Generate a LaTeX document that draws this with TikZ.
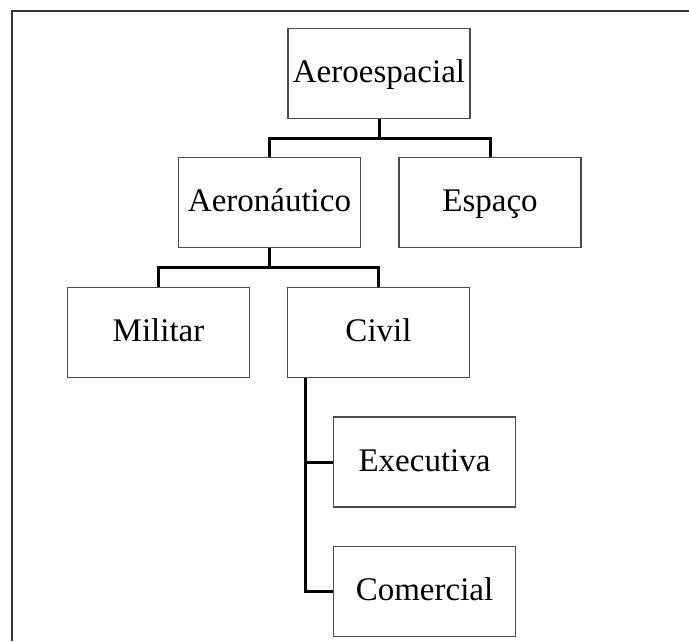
\documentclass[tikz,border=0pt]{standalone}
\usepackage{fontspec}
\setmainfont{Liberation Serif}
\usetikzlibrary{calc}
\begin{document}
\begin{tikzpicture}[x=1pt,y=-1pt,
  box/.style={draw=black!70, line width=1.2pt, fill=white, minimum width=182pt,
    minimum height=90pt, inner sep=0pt, text height=22pt, text depth=4pt,
    font=\fontsize{33}{36}\selectfont},
  link/.style={draw=black, line width=3pt},
  frame/.style={draw=black!80, line width=2pt}]
  \useasboundingbox (0,0) rectangle (689,641);
  % page frame (left and top rules)
  \draw[frame] (12,641) -- (12,11) -- (689,11);

  \node[box] (aero)  at (379,73.5)    {Aeroespacial};
  \node[box] (aeron) at (269.5,202.5) {Aeronáutico};
  \node[box] (esp)   at (490,202.5)   {Espaço};
  \node[box] (mil)   at (158.5,332.5) {Militar};
  \node[box] (civ)   at (378.5,332.5) {Civil};
  \node[box] (exe)   at (424.5,462)   {Executiva};
  \node[box] (com)   at (424.5,591.5) {Comercial};

  % tree connectors
  \draw[link] (aero.south) -- ++(0,19) -| (aeron.north);
  \draw[link] (aero.south) -- ++(0,19) -| (esp.north);
  \draw[link] (aeron.south) -- ++(0,19) -| (mil.north);
  \draw[link] (aeron.south) -- ++(0,19) -| (civ.north);
  \coordinate (trunk) at ($(civ.south west)+(19,0)$);
  \draw[link] (trunk) |- (exe.west);
  \draw[link] (trunk) |- (com.west);
\end{tikzpicture}
\end{document}
